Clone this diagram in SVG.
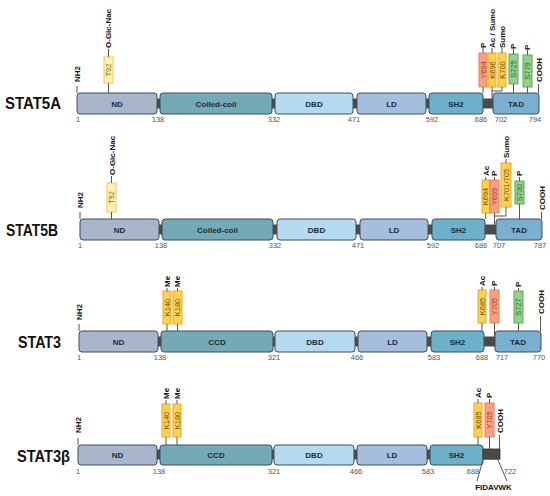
<svg xmlns="http://www.w3.org/2000/svg" width="550" height="496" viewBox="0 0 550 496">
<style>
.bg{fill:#ffffff}
.bb{fill:#4a4a4a}
.dom{stroke:#3c4f60;stroke-width:1}
.nd{fill:#a9b5c9}
.cc{fill:#74a9b6}
.dbd{fill:#b4daf0}
.ld{fill:#a6bedd}
.sh2{fill:#6cb0c9}
.tad{fill:#7aafd0}
.dt{font-family:"Liberation Sans",Arial,sans-serif;font-weight:bold;font-size:8px;fill:#1c2b3a;text-anchor:middle}
.num{font-family:"Liberation Sans",Arial,sans-serif;font-size:7.5px;fill:#555;text-anchor:middle}
.name{font-family:"Liberation Sans",Arial,sans-serif;font-weight:bold;font-size:16.5px;fill:#111}
.v{font-family:"Liberation Sans",Arial,sans-serif;font-weight:bold;font-size:8px;fill:#111}
.bt{font-family:"Liberation Sans",Arial,sans-serif;font-size:7.5px;text-anchor:middle}
.y{fill:#ffd34d;stroke:#f0a531;stroke-width:1}
.yt{fill:#6b4a10}
.ly{fill:#fff2b3;stroke:#f2c94c;stroke-width:1}
.lyt{fill:#7a6520}
.r{fill:#f7a182;stroke:#f07e5b;stroke-width:1}
.rt{fill:#9c3d25}
.g{fill:#92d08b;stroke:#5aab55;stroke-width:1}
.gt{fill:#2d6a2d}
.ln{stroke:#555;stroke-width:1;fill:none}
</style>
<rect class="bg" width="550" height="496"/>

<!-- ===== STAT5A ===== -->
<g id="stat5a">
<text class="name" x="5" y="109" textLength="56" lengthAdjust="spacingAndGlyphs">STAT5A</text>
<rect class="bb" x="80" y="98.5" width="456" height="10"/>
<g id="a-nd"><rect class="dom nd" x="77" y="93" width="80" height="21" rx="3"/><text class="dt" x="117" y="106.5">ND</text></g>
<g id="a-cc"><rect class="dom cc" x="160" y="93" width="112" height="21" rx="3"/><text class="dt" x="216" y="106.5">Coiled-coil</text></g>
<g id="a-dbd"><rect class="dom dbd" x="275" y="93" width="78" height="21" rx="3"/><text class="dt" x="314" y="106.5">DBD</text></g>
<g id="a-ld"><rect class="dom ld" x="357" y="93" width="69" height="21" rx="3"/><text class="dt" x="391.5" y="106.5">LD</text></g>
<g id="a-sh2"><rect class="dom sh2" x="429" y="93" width="54" height="21" rx="3"/><text class="dt" x="456" y="106.5">SH2</text></g>
<g id="a-tad"><rect class="dom tad" x="493" y="93" width="46" height="21" rx="3"/><text class="dt" x="516" y="106.5">TAD</text></g>
<g id="a-nums">
<text class="num" x="78" y="122">1</text><text class="num" x="158" y="122">138</text><text class="num" x="274" y="122">332</text><text class="num" x="354" y="122">471</text><text class="num" x="432" y="122">592</text><text class="num" x="481" y="122">686</text><text class="num" x="501" y="122">702</text><text class="num" x="535" y="122">794</text>
</g>
<text class="v" transform="translate(79.9,82) rotate(-90)">NH2</text>
<text class="v" transform="translate(541.9,82) rotate(-90)">COOH</text>
<g id="a-t92"><rect class="ly" x="104" y="57" width="9" height="26"/><text class="bt lyt" transform="translate(111.2,70) rotate(-90)">T92</text><text class="v" transform="translate(111.4,48) rotate(-90)">O-Glc-Nac</text></g>
<g id="a-y694"><rect class="r" x="479" y="53" width="8" height="34"/><text class="bt rt" transform="translate(485.7,70) rotate(-90)">Y694</text><text class="v" transform="translate(485.9,48) rotate(-90)">P</text></g>
<g id="a-k696"><rect class="y" x="488" y="53" width="8" height="34"/><text class="bt yt" transform="translate(494.7,70) rotate(-90)">K696</text><text class="v" transform="translate(494.9,48) rotate(-90)">Ac / Sumo</text></g>
<g id="a-k700"><rect class="y" x="498" y="53" width="8" height="34"/><text class="bt yt" transform="translate(504.7,70) rotate(-90)">K700</text><text class="v" transform="translate(504.9,48) rotate(-90)">Sumo</text></g>
<g id="a-s725"><rect class="g" x="509" y="54" width="9" height="30"/><text class="bt gt" transform="translate(516.2,69) rotate(-90)">S725</text><text class="v" transform="translate(516.4,49) rotate(-90)">P</text></g>
<g id="a-s779"><rect class="g" x="523" y="55" width="9" height="32"/><text class="bt gt" transform="translate(530.2,71) rotate(-90)">S779</text><text class="v" transform="translate(530.4,50) rotate(-90)">P</text></g>
</g>

<!-- ===== STAT5B ===== -->
<g id="stat5b">
<text class="name" x="6" y="236" textLength="52" lengthAdjust="spacingAndGlyphs">STAT5B</text>
<rect class="bb" x="83" y="224.5" width="456" height="10"/>
<g id="b-nd"><rect class="dom nd" x="80" y="219" width="79" height="21" rx="3"/><text class="dt" x="119.5" y="232.5">ND</text></g>
<g id="b-cc"><rect class="dom cc" x="162" y="219" width="111" height="21" rx="3"/><text class="dt" x="217.5" y="232.5">Coiled-coil</text></g>
<g id="b-dbd"><rect class="dom dbd" x="277" y="219" width="79" height="21" rx="3"/><text class="dt" x="316.5" y="232.5">DBD</text></g>
<g id="b-ld"><rect class="dom ld" x="360" y="219" width="68" height="21" rx="3"/><text class="dt" x="394" y="232.5">LD</text></g>
<g id="b-sh2"><rect class="dom sh2" x="432" y="219" width="53" height="21" rx="3"/><text class="dt" x="458.5" y="232.5">SH2</text></g>
<g id="b-tad"><rect class="dom tad" x="496" y="219" width="46" height="21" rx="3"/><text class="dt" x="519" y="232.5">TAD</text></g>
<g id="b-nums">
<text class="num" x="80" y="248">1</text><text class="num" x="161" y="248">138</text><text class="num" x="275" y="248">332</text><text class="num" x="358" y="248">471</text><text class="num" x="433" y="248">592</text><text class="num" x="481" y="248">686</text><text class="num" x="499" y="248">707</text><text class="num" x="540" y="248">787</text>
</g>
<text class="v" transform="translate(82.9,208) rotate(-90)">NH2</text>
<text class="v" transform="translate(544.9,210) rotate(-90)">COOH</text>
<g id="b-t92"><rect class="ly" x="107" y="183" width="9" height="29"/><text class="bt lyt" transform="translate(114.2,197.5) rotate(-90)">T92</text><text class="v" transform="translate(114.9,175) rotate(-90)">O-Glc-Nac</text></g>
<g id="b-k694"><rect class="y" x="482" y="180" width="7.5" height="33"/><text class="bt yt" transform="translate(488.4,196.5) rotate(-90)">K694</text><text class="v" transform="translate(488.6,176) rotate(-90)">Ac</text></g>
<g id="b-y699"><rect class="r" x="490" y="180" width="9" height="33"/><text class="bt rt" transform="translate(497.2,196.5) rotate(-90)">Y699</text><text class="v" transform="translate(497.4,176) rotate(-90)">P</text></g>
<g id="b-k701"><rect class="y" x="501" y="163" width="10" height="44"/><text class="bt yt" transform="translate(508.7,185) rotate(-90)">K701/705</text><text class="v" transform="translate(508.9,158) rotate(-90)">Sumo</text></g>
<g id="b-s730"><rect class="g" x="515" y="181" width="9" height="23"/><text class="bt gt" transform="translate(522.2,192.5) rotate(-90)">S730</text><text class="v" transform="translate(522.4,176) rotate(-90)">P</text></g>
</g>

<!-- ===== STAT3 ===== -->
<g id="stat3">
<text class="name" x="18" y="348" textLength="43" lengthAdjust="spacingAndGlyphs">STAT3</text>
<rect class="bb" x="82" y="336.5" width="456" height="10"/>
<g id="c-nd"><rect class="dom nd" x="79" y="331" width="79" height="21" rx="3"/><text class="dt" x="118.5" y="344.5">ND</text></g>
<g id="c-ccd"><rect class="dom cc" x="161" y="331" width="112" height="21" rx="3"/><text class="dt" x="217" y="344.5">CCD</text></g>
<g id="c-dbd"><rect class="dom dbd" x="275" y="331" width="80" height="21" rx="3"/><text class="dt" x="315" y="344.5">DBD</text></g>
<g id="c-ld"><rect class="dom ld" x="358" y="331" width="69" height="21" rx="3"/><text class="dt" x="392.5" y="344.5">LD</text></g>
<g id="c-sh2"><rect class="dom sh2" x="431" y="331" width="53" height="21" rx="3"/><text class="dt" x="457.5" y="344.5">SH2</text></g>
<g id="c-tad"><rect class="dom tad" x="495" y="331" width="46" height="21" rx="3"/><text class="dt" x="518" y="344.5">TAD</text></g>
<g id="c-nums">
<text class="num" x="79" y="360">1</text><text class="num" x="160" y="360">138</text><text class="num" x="274" y="360">321</text><text class="num" x="357" y="360">466</text><text class="num" x="434" y="360">583</text><text class="num" x="482" y="360">688</text><text class="num" x="502" y="360">717</text><text class="num" x="539" y="360">770</text>
</g>
<text class="v" transform="translate(81.9,320) rotate(-90)">NH2</text>
<text class="v" transform="translate(543.9,314) rotate(-90)">COOH</text>
<g id="c-k140"><rect class="y" x="163" y="291" width="8" height="33"/><text class="bt yt" transform="translate(169.7,307.5) rotate(-90)">K140</text><text class="v" transform="translate(169.9,287) rotate(-90)">Me</text></g>
<g id="c-k180"><rect class="y" x="173" y="291" width="9" height="33"/><text class="bt yt" transform="translate(180.2,307.5) rotate(-90)">K180</text><text class="v" transform="translate(180.4,287) rotate(-90)">Me</text></g>
<g id="c-k685"><rect class="y" x="478" y="290" width="8" height="33"/><text class="bt yt" transform="translate(484.7,306.5) rotate(-90)">K685</text><text class="v" transform="translate(484.9,286) rotate(-90)">Ac</text></g>
<g id="c-y705"><rect class="r" x="490" y="290" width="9" height="33"/><text class="bt rt" transform="translate(497.2,306.5) rotate(-90)">Y705</text><text class="v" transform="translate(497.4,286) rotate(-90)">P</text></g>
<g id="c-s727"><rect class="g" x="514" y="291" width="9" height="32"/><text class="bt gt" transform="translate(521.2,307) rotate(-90)">S727</text><text class="v" transform="translate(521.4,287) rotate(-90)">P</text></g>
</g>

<!-- ===== STAT3beta ===== -->
<g id="stat3b">
<text class="name" x="17" y="462" textLength="53" lengthAdjust="spacingAndGlyphs">STAT3β</text>
<rect class="bb" x="81" y="449.5" width="419" height="10"/>
<g id="d-nd"><rect class="dom nd" x="78" y="445" width="79" height="20" rx="3"/><text class="dt" x="117.5" y="458">ND</text></g>
<g id="d-ccd"><rect class="dom cc" x="160" y="445" width="112" height="20" rx="3"/><text class="dt" x="216" y="458">CCD</text></g>
<g id="d-dbd"><rect class="dom dbd" x="274" y="445" width="80" height="20" rx="3"/><text class="dt" x="314" y="458">DBD</text></g>
<g id="d-ld"><rect class="dom ld" x="357" y="445" width="70" height="20" rx="3"/><text class="dt" x="392" y="458">LD</text></g>
<g id="d-sh2"><rect class="dom sh2" x="430" y="445" width="53" height="20" rx="3"/><text class="dt" x="456.5" y="458">SH2</text></g>
<g id="d-tail"><rect x="483" y="449" width="17" height="10" fill="#4a4a4a" stroke="#333" stroke-width="0.8"/></g>
<g id="d-nums">
<text class="num" x="78" y="474">1</text><text class="num" x="159" y="474">138</text><text class="num" x="274" y="474">321</text><text class="num" x="356" y="474">466</text><text class="num" x="428" y="474">583</text><text class="num" x="473" y="474">688</text><text class="num" x="510" y="474">722</text>
</g>
<text class="v" transform="translate(80.9,433) rotate(-90)">NH2</text>
<text class="v" transform="translate(502.9,433) rotate(-90)">COOH</text>
<text class="v" x="493.5" y="490" text-anchor="middle">FIDAVWK</text>
<g id="d-k140"><rect class="y" x="162" y="404" width="8" height="33"/><text class="bt yt" transform="translate(168.7,420.5) rotate(-90)">K140</text><text class="v" transform="translate(168.9,399) rotate(-90)">Me</text></g>
<g id="d-k180"><rect class="y" x="173" y="404" width="8" height="33"/><text class="bt yt" transform="translate(179.7,420.5) rotate(-90)">K180</text><text class="v" transform="translate(179.9,399) rotate(-90)">Me</text></g>
<g id="d-k685"><rect class="y" x="474" y="403" width="8" height="34"/><text class="bt yt" transform="translate(480.7,420) rotate(-90)">K685</text><text class="v" transform="translate(480.9,398) rotate(-90)">Ac</text></g>
<g id="d-y705"><rect class="r" x="485" y="403" width="9" height="34"/><text class="bt rt" transform="translate(492.2,420) rotate(-90)">Y705</text><text class="v" transform="translate(492.4,398) rotate(-90)">P</text></g>
</g>

<!-- ===== connectors ===== -->
<g id="connectors" class="ln">
<!-- STAT5A -->
<path d="M77 86V93 M538.5 84V93 M108.5 83V93 M108.5 57V49"/>
<path d="M483 87V93 M492 87V98.5 M502 87V91H492 M513.5 84V93 M527.5 87V93"/>
<path d="M483 53V48 M492 53V48 M502 53V48 M513.5 54V49 M527.5 55V50"/>
<!-- STAT5B -->
<path d="M80 212V219 M541.5 212V219 M111.5 212V219 M111.5 183V176"/>
<path d="M485.7 213V219 M494.5 213V224.5 M506 207V216H494.5 M519.5 204V219"/>
<path d="M485.7 180V177 M494.5 180V177 M506 163V159 M519.5 181V177"/>
<!-- STAT3 -->
<path d="M79 324V331 M540.5 316V331"/>
<path d="M167 324V331 M177.5 324V331 M167 291V288 M177.5 291V288"/>
<path d="M482 323V331 M494.5 323V336.5 M518.5 323V331 M482 290V287 M494.5 290V287 M518.5 291V288"/>
<!-- STAT3beta -->
<path d="M78 438V445 M499.5 435V449"/>
<path d="M166 437V445 M177 437V445 M166 404V400 M177 404V400"/>
<path d="M478 437V445 M489.5 437V449 M478 403V399 M489.5 403V399"/>
<path d="M483 460L477 481 M498 460L507 481"/>
</g>
</svg>
